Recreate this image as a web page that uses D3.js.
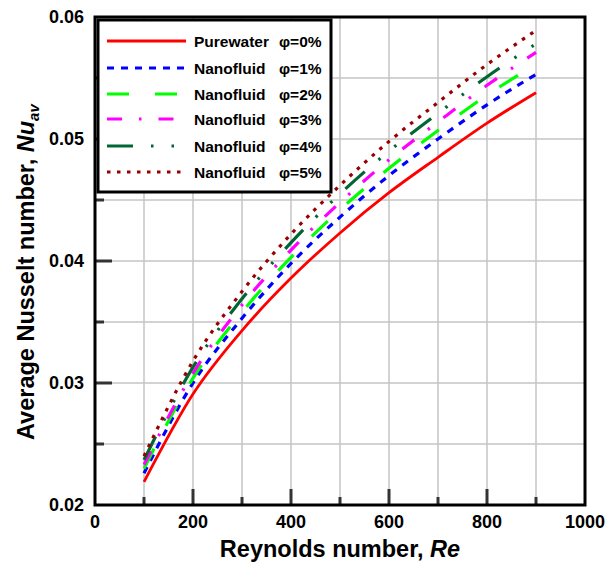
<!DOCTYPE html>
<html><head><meta charset="utf-8">
<script src="https://cdn.jsdelivr.net/npm/d3@7"></script>
<style>body{margin:0;background:#fff}svg{display:block;font-family:"Liberation Sans",Arial,sans-serif}</style>
</head><body><svg id="c" width="607" height="563"></svg>
<script>
const reynolds = [100, 200, 300, 400, 500, 600, 700, 800, 900];
const nuWater = [0.0219, 0.0291, 0.0343, 0.0386, 0.0423, 0.0456, 0.0485, 0.0513, 0.0538];
const nuPhi1  = [0.0226, 0.0300, 0.0353, 0.0398, 0.0436, 0.0470, 0.0500, 0.0528, 0.0553];
const nuPhi2  = [0.0230, 0.0304, 0.0358, 0.0403, 0.0442, 0.0476, 0.0507, 0.0536, 0.0561];
const nuPhi3  = [0.0233, 0.0308, 0.0364, 0.0409, 0.0448, 0.0483, 0.0514, 0.0544, 0.0571];
const nuPhi4  = [0.0237, 0.0313, 0.0369, 0.0415, 0.0455, 0.0490, 0.0521, 0.0551, 0.0578];
const nuPhi5  = [0.0240, 0.0318, 0.0375, 0.0422, 0.0462, 0.0498, 0.0530, 0.0561, 0.0589];
const seriesNames = ["Purewater", "Nanofluid", "Nanofluid", "Nanofluid", "Nanofluid", "Nanofluid"];
const seriesPhi = ["φ=0%", "φ=1%", "φ=2%", "φ=3%", "φ=4%", "φ=5%"];
const xTicks = [0, 200, 400, 600, 800, 1000];
const yTicks = [0.02, 0.03, 0.04, 0.05, 0.06];

const allSeries = [nuWater, nuPhi1, nuPhi2, nuPhi3, nuPhi4, nuPhi5];
const styles = [
  {color:"#ff0000", dash:null, w:2.8, cap:"butt"},
  {color:"#0000ff", dash:"7,7", w:3.2, cap:"butt"},
  {color:"#00ff00", dash:"22,26", w:3.2, cap:"butt"},
  {color:"#ff00ff", dash:"15,17,2.5,17", w:3.2, cap:"butt"},
  {color:"#006633", dash:"26,18,2.5,18,2.5,18", w:3.2, cap:"butt"},
  {color:"#990000", dash:"3.5,6.5", w:3.2, cap:"butt"}
];

const svg = d3.select("#c");
const L = 95, R = 585, T = 17, B = 505;
const x = d3.scaleLinear().domain([0, 1000]).range([L, R]);
const y = d3.scaleLinear().domain([0.02, 0.06]).range([B, T]);

// grid
const g = svg.append("g");
g.selectAll("line.v").data(d3.range(100, 1000, 100)).join("line")
  .attr("x1", d => x(d)).attr("x2", d => x(d)).attr("y1", T).attr("y2", B)
  .attr("stroke", "#c4c4c4").attr("stroke-width", 1.5);
g.selectAll("line.h").data(d3.range(0.025, 0.0599, 0.005)).join("line")
  .attr("y1", d => y(d)).attr("y2", d => y(d)).attr("x1", L).attr("x2", R)
  .attr("stroke", "#c4c4c4").attr("stroke-width", 1.5);

// ticks (inward)
const tk = svg.append("g").attr("stroke", "#333").attr("stroke-width", 3);
d3.range(100, 1000, 100).forEach(v => {
  const len = v % 200 === 0 ? 16 : 8;
  tk.append("line").attr("x1", x(v)).attr("x2", x(v)).attr("y1", B).attr("y2", B - len);
});
d3.range(0.025, 0.0599, 0.005).forEach(v => {
  const major = Math.abs(Math.round(v * 100) - v * 100) < 1e-6;
  const len = major ? 17 : 9;
  tk.append("line").attr("y1", y(v)).attr("y2", y(v)).attr("x1", L).attr("x2", L + len);
});

// curves
const line = d3.line().x((d, i) => x(reynolds[i])).y(d => y(d)).curve(d3.curveMonotoneX);
allSeries.forEach((s, i) => {
  const st = styles[i];
  svg.append("path").datum(s).attr("d", line).attr("fill", "none")
    .attr("stroke", st.color).attr("stroke-width", st.w)
    .attr("stroke-dasharray", st.dash).attr("stroke-linecap", st.cap);
});

// frame
svg.append("rect").attr("x", L).attr("y", T).attr("width", R - L).attr("height", B - T)
  .attr("fill", "none").attr("stroke", "#000").attr("stroke-width", 3);

// tick labels
svg.selectAll("text.xt").data(xTicks).join("text")
  .attr("x", d => x(d)).attr("y", 528).attr("text-anchor", "middle")
  .attr("font-size", 18).attr("font-weight", "bold").text(d => d);
svg.selectAll("text.yt").data(yTicks).join("text")
  .attr("x", 84).attr("y", d => y(d) + 6).attr("text-anchor", "end")
  .attr("font-size", 18).attr("font-weight", "bold").text(d => d.toFixed(2));

// axis titles
const xt = svg.append("text").attr("x", 340).attr("y", 557).attr("text-anchor", "middle")
  .attr("font-size", 23.5).attr("font-weight", "bold");
xt.append("tspan").text("Reynolds number, ");
xt.append("tspan").attr("font-style", "italic").text("Re");

const yt = svg.append("text").attr("transform", "translate(34,440) rotate(-90)")
  .attr("text-anchor", "start").attr("font-size", 23.5).attr("font-weight", "bold");
yt.append("tspan").text("Average Nusselt number, ");
yt.append("tspan").attr("font-style", "italic").text("Nu");
yt.append("tspan").attr("font-style", "italic").attr("font-size", 15).attr("dy", 5).text("av");

// legend
const lg = svg.append("g");
lg.append("rect").attr("x", 98).attr("y", 20).attr("width", 233).attr("height", 172)
  .attr("fill", "#fff").attr("stroke", "#000").attr("stroke-width", 3);
const rowY = [41, 68, 94, 119, 146, 172];
styles.forEach((st, i) => {
  lg.append("line").attr("x1", 107).attr("x2", 186).attr("y1", rowY[i]).attr("y2", rowY[i])
    .attr("stroke", st.color).attr("stroke-width", st.w).attr("stroke-dasharray", st.dash)
    .attr("stroke-linecap", st.cap);
  lg.append("text").attr("x", 194).attr("y", rowY[i] + 5.5).attr("font-size", 15.5)
    .attr("font-weight", "bold").text(seriesNames[i]);
  lg.append("text").attr("x", 279).attr("y", rowY[i] + 5.5).attr("font-size", 15.5)
    .attr("font-weight", "bold").text(seriesPhi[i]);
});
</script></body></html>
